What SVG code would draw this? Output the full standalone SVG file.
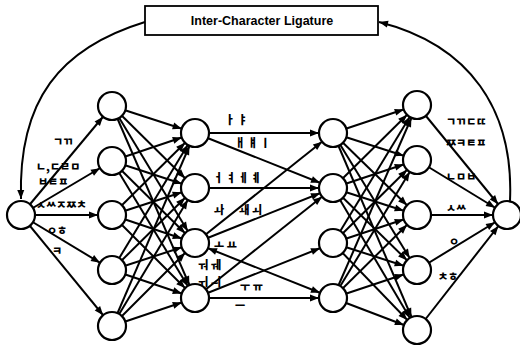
<svg xmlns="http://www.w3.org/2000/svg" width="520" height="350" viewBox="0 0 520 350">
<style>
.c{fill:#fff;stroke:#000;stroke-width:2.2}
.e line{stroke:#000;stroke-width:2;marker-end:url(#a)}
.cv{fill:none;stroke:#000;stroke-width:2}
.k{font-family:"Noto Sans CJK KR","Noto Sans",sans-serif;font-weight:900;font-size:11px;fill:#000}
.t{font-family:"Liberation Sans",Arial,sans-serif;font-weight:bold;font-size:12.5px;fill:#000}
</style>
<defs>
<marker id="a" markerUnits="userSpaceOnUse" markerWidth="30" markerHeight="8" refX="23" refY="3.5" orient="auto-start-reverse" overflow="visible"><path d="M0,0 L9,3.5 L0,7 z"/></marker>
<marker id="b" markerUnits="userSpaceOnUse" markerWidth="10" markerHeight="8" refX="9" refY="3.5" orient="auto" overflow="visible"><path d="M0,0 L9,3.5 L0,7 z"/></marker>
</defs>
<rect width="520" height="350" fill="#fff"/>
<g id="connectors">
<path class="cv" d="M145,22 C60,48 18,100 21,199" marker-end="url(#b)"/>
<path class="cv" d="M510,201 C514,110 470,45 379,22" marker-end="url(#b)"/>
<g class="e">
<line x1="21" y1="215" x2="112" y2="106"/>
<line x1="21" y1="215" x2="112" y2="161"/>
<line x1="21" y1="215" x2="112" y2="215"/>
<line x1="21" y1="215" x2="112" y2="270"/>
<line x1="21" y1="215" x2="112" y2="326"/>
<line x1="112" y1="106" x2="195" y2="133"/><line x1="112" y1="106" x2="195" y2="188"/><line x1="112" y1="106" x2="195" y2="243"/><line x1="112" y1="106" x2="195" y2="298"/>
<line x1="112" y1="161" x2="195" y2="133"/><line x1="112" y1="161" x2="195" y2="188"/><line x1="112" y1="161" x2="195" y2="243"/><line x1="112" y1="161" x2="195" y2="298"/>
<line x1="112" y1="215" x2="195" y2="133"/><line x1="112" y1="215" x2="195" y2="188"/><line x1="112" y1="215" x2="195" y2="243"/><line x1="112" y1="215" x2="195" y2="298"/>
<line x1="112" y1="270" x2="195" y2="133"/><line x1="112" y1="270" x2="195" y2="188"/><line x1="112" y1="270" x2="195" y2="243"/><line x1="112" y1="270" x2="195" y2="298"/>
<line x1="112" y1="326" x2="195" y2="133"/><line x1="112" y1="326" x2="195" y2="188"/><line x1="112" y1="326" x2="195" y2="243"/><line x1="112" y1="326" x2="195" y2="298"/>
<line x1="195" y1="133" x2="333" y2="133"/>
<line x1="195" y1="133" x2="333" y2="188"/>
<line x1="195" y1="188" x2="333" y2="188"/>
<line x1="195" y1="243" x2="333" y2="133"/>
<line x1="195" y1="243" x2="333" y2="188"/>
<line x1="195" y1="243" x2="333" y2="298" marker-start="url(#a)"/>
<line x1="195" y1="298" x2="333" y2="188"/>
<line x1="195" y1="298" x2="333" y2="243"/>
<line x1="195" y1="298" x2="333" y2="298"/>
<line x1="333" y1="133" x2="417" y2="105"/><line x1="333" y1="133" x2="417" y2="160"/><line x1="333" y1="133" x2="417" y2="215"/><line x1="333" y1="133" x2="417" y2="270"/><line x1="333" y1="133" x2="417" y2="330"/>
<line x1="333" y1="188" x2="417" y2="105"/><line x1="333" y1="188" x2="417" y2="160"/><line x1="333" y1="188" x2="417" y2="215"/><line x1="333" y1="188" x2="417" y2="270"/><line x1="333" y1="188" x2="417" y2="330"/>
<line x1="333" y1="243" x2="417" y2="105"/><line x1="333" y1="243" x2="417" y2="160"/><line x1="333" y1="243" x2="417" y2="215"/><line x1="333" y1="243" x2="417" y2="270"/><line x1="333" y1="243" x2="417" y2="330"/>
<line x1="333" y1="298" x2="417" y2="105"/><line x1="333" y1="298" x2="417" y2="160"/><line x1="333" y1="298" x2="417" y2="215"/><line x1="333" y1="298" x2="417" y2="270"/><line x1="333" y1="298" x2="417" y2="330"/>
<line x1="417" y1="105" x2="507" y2="215"/>
<line x1="417" y1="160" x2="507" y2="215"/>
<line x1="417" y1="215" x2="507" y2="215"/>
<line x1="417" y1="270" x2="507" y2="215"/>
<line x1="417" y1="330" x2="507" y2="215"/>
</g>
</g>
<g id="ligature"><rect x="145" y="6" width="233" height="29" fill="#fff" stroke="#000" stroke-width="1.8"/><text class="t" x="262" y="25" text-anchor="middle">Inter-Character Ligature</text></g>
<g id="in"><circle class="c" cx="21" cy="215" r="14"/></g>
<g id="h1a"><circle class="c" cx="112" cy="106" r="14"/></g>
<g id="h1b"><circle class="c" cx="112" cy="161" r="14"/></g>
<g id="h1c"><circle class="c" cx="112" cy="215" r="14"/></g>
<g id="h1d"><circle class="c" cx="112" cy="270" r="14"/></g>
<g id="h1e"><circle class="c" cx="112" cy="326" r="14"/></g>
<g id="h2a"><circle class="c" cx="195" cy="133" r="14"/></g>
<g id="h2b"><circle class="c" cx="195" cy="188" r="14"/></g>
<g id="h2c"><circle class="c" cx="195" cy="243" r="14"/></g>
<g id="h2d"><circle class="c" cx="195" cy="298" r="14"/></g>
<g id="h3a"><circle class="c" cx="333" cy="133" r="14"/></g>
<g id="h3b"><circle class="c" cx="333" cy="188" r="14"/></g>
<g id="h3c"><circle class="c" cx="333" cy="243" r="14"/></g>
<g id="h3d"><circle class="c" cx="333" cy="298" r="14"/></g>
<g id="h4a"><circle class="c" cx="417" cy="105" r="14"/></g>
<g id="h4b"><circle class="c" cx="417" cy="160" r="14"/></g>
<g id="h4c"><circle class="c" cx="417" cy="215" r="14"/></g>
<g id="h4d"><circle class="c" cx="417" cy="270" r="14"/></g>
<g id="h4e"><circle class="c" cx="417" cy="330" r="14"/></g>
<g id="out"><circle class="c" cx="507" cy="215" r="14"/></g>
<g id="labels">
<text class="k" x="53" y="146">ㄱㄲ</text>
<text class="k" x="36" y="171">ㄴ,ㄷㄹㅁ</text>
<text class="k" x="38" y="186">ㅂㅌㅍ</text>
<text class="k" x="36" y="209">ㅅㅆㅈㅉㅊ</text>
<text class="k" x="47" y="235">ㅇㅎ</text>
<text class="k" x="52" y="255">ㅋ</text>
<text class="k" x="225" y="124">ㅏ ㅑ</text>
<text class="k" x="235" y="147">ㅐ ㅒ ㅣ</text>
<text class="k" x="213" y="182">ㅓ ㅕ ㅔ ㅖ</text>
<text class="k" x="214" y="214">ㅘ</text>
<text class="k" x="239" y="214">ㅙ ㅚ</text>
<text class="k" x="214" y="249">ㅗ ㅛ</text>
<text class="k" x="198" y="269">ㅝ ㅞ</text>
<text class="k" x="198" y="286">ㅟ ㅢ</text>
<text class="k" x="240" y="291">ㅜ ㅠ</text>
<text class="k" x="235" y="310">ㅡ</text>
<text class="k" x="446" y="126">ㄱㄲㄷㄸ</text>
<text class="k" x="446" y="147">ㅉㅋㅌㅍ</text>
<text class="k" x="446" y="181">ㄴㅁㅂ</text>
<text class="k" x="446" y="212">ㅅㅆ</text>
<text class="k" x="449" y="246">ㅇ</text>
<text class="k" x="438" y="281">ㅊㅎ</text>
</g>
</svg>
